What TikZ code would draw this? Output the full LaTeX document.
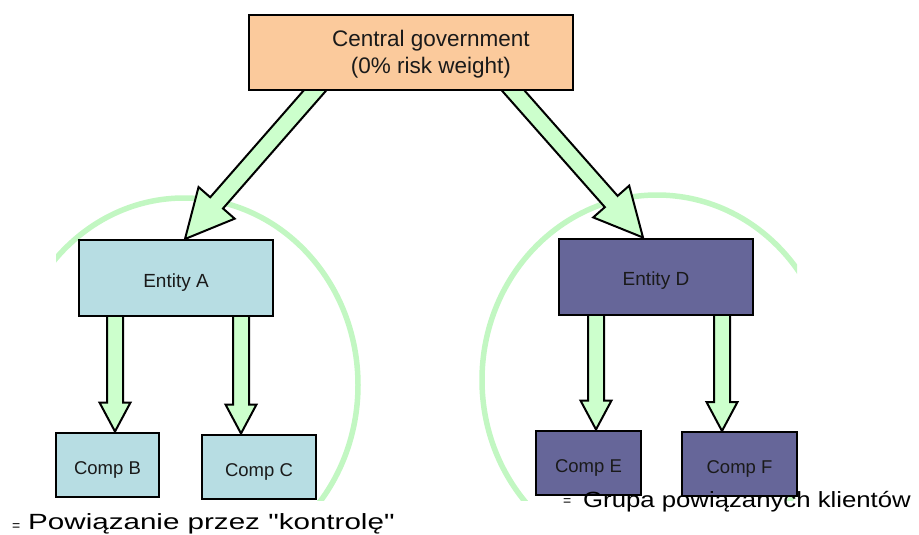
\documentclass[tikz,border=0pt]{standalone}
\usepackage{fontspec}
\setmainfont{Liberation Sans}[Ligatures=TeXOff]
\usetikzlibrary{calc}
\pgfdeclarelayer{bg}
\pgfsetlayers{bg,main}
\definecolor{peach}{HTML}{FBCA9C}
\definecolor{lblue}{HTML}{B7DDE3}
\definecolor{purp}{HTML}{666699}
\definecolor{agreen}{HTML}{CCFFCC}
\definecolor{cgreen}{HTML}{C2F7C2}
\definecolor{txt}{HTML}{1A1A1A}
\tikzset{
  box/.style={draw=black, line width=2pt, inner sep=0pt, text=txt},
  topbox/.style={box, fill=peach, minimum width=324pt, minimum height=75pt, align=center,
     font=\fontsize{22.5}{27}\selectfont, text height=47.7pt, text depth=4.7pt},
  entA/.style={box, fill=lblue, minimum width=194pt, minimum height=76pt,
     font=\fontsize{19}{22}\selectfont, text height=18pt, text depth=0pt},
  entD/.style={entA, fill=purp},
  compA/.style={box, fill=lblue, minimum height=64pt,
     font=\fontsize{18.5}{22}\selectfont, text height=19pt, text depth=0pt},
  compD/.style={compA, fill=purp},
  barrow/.style={draw=black, line width=2pt, fill=agreen, line join=miter},
  ring/.style={draw=cgreen, line width=5.5pt},
  legend/.style={inner sep=0pt, text=black, font=\fontsize{22}{26}\selectfont},
  eqsign/.style={inner sep=0pt, text=black, font=\fontsize{14}{15}\selectfont}
}
\newcommand{\blockarrow}[5]{%
  \coordinate (ba-s) at #1;
  \coordinate (ba-t) at #2;
  \coordinate (ba-h) at ($(ba-t)!#5!(ba-s)$);
  \filldraw[barrow] ($(ba-s)!#3!90:(ba-t)$) -- ($(ba-h)!#3!90:(ba-t)$)
    -- ($(ba-h)!#4!90:(ba-t)$) -- (ba-t) -- ($(ba-h)!#4!-90:(ba-t)$)
    -- ($(ba-h)!#3!-90:(ba-t)$) -- ($(ba-s)!#3!-90:(ba-t)$) -- cycle;%
}
\begin{document}
\begin{tikzpicture}[x=1pt,y=-1pt]
\useasboundingbox (0,0) rectangle (919,535);
% nodes
\node[topbox] (cg) at (411,52.5) {\hspace*{40pt}Central government\\\hspace*{40pt}(0\% risk weight)};
\node[entA] (ea) at (176,278) {Entity A};
\node[entD] (ed) at (656,276.5) {Entity D};
\node[compA, minimum width=103pt] (cb) at (107.5,464.5) {Comp B};
\node[compA, minimum width=114pt] (cc) at (259,466.5) {Comp C};
\node[compD, minimum width=105pt] (ce) at (588.5,462.5) {Comp E};
\node[compD, minimum width=115pt] (cf) at (739.5,464) {Comp F};
% legend texts
\node[eqsign, anchor=base west] (eq1) at (12,530) {=};
\node[legend, anchor=base west] (lg1) at (28,529) {\scalebox{1.345}[1]{Powiązanie przez "kontrolę"}};
\node[eqsign, anchor=base west] (eq2) at (563,505) {=};
\node[legend, anchor=base west] (lg2) at (583,507) {\scalebox{1.17}[1]{Grupa powiązanych klientów}};
\begin{pgfonlayer}{bg}
  \begin{scope}
    \clip (56,0) rectangle (797,500);
    \draw[ring] (184,385) ellipse [x radius=174, y radius=187];
    \draw[ring] (657,380) ellipse [x radius=175, y radius=185];
  \end{scope}
  \blockarrow{([xshift=-86pt,yshift=12pt]cg.south)}{([xshift=9pt]ea.north)}{8.5pt}{24pt}{48pt}
  \blockarrow{([xshift=92pt,yshift=12pt]cg.south)}{([xshift=-13pt]ed.north)}{8.5pt}{24pt}{48pt}
  \blockarrow{([xshift=-61pt,yshift=2pt]ea.south)}{([xshift=7.5pt]cb.north)}{8pt}{15.5pt}{29pt}
  \blockarrow{([xshift=65pt,yshift=2pt]ea.south)}{([xshift=-18pt]cc.north)}{8pt}{15.5pt}{29pt}
  \blockarrow{([xshift=-60pt,yshift=2pt]ed.south)}{([xshift=7.5pt]ce.north)}{8pt}{15.5pt}{29pt}
  \blockarrow{([xshift=66pt,yshift=2pt]ed.south)}{([xshift=-17.5pt]cf.north)}{8pt}{15.5pt}{29pt}
\end{pgfonlayer}
\end{tikzpicture}
\end{document}
